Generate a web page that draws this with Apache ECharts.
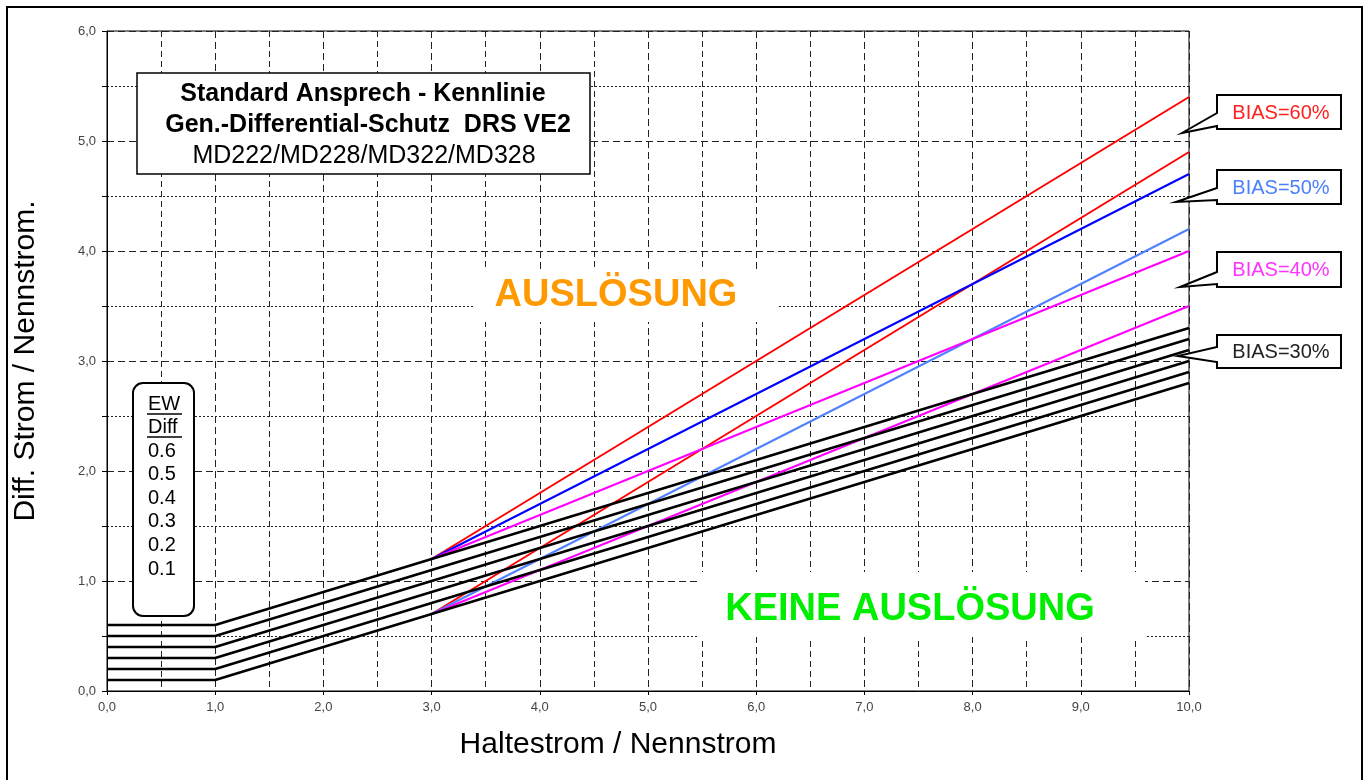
<!DOCTYPE html>
<html>
<head>
<meta charset="utf-8">
<script src="https://cdn.jsdelivr.net/npm/echarts@6/dist/echarts.min.js"></script>
<style>
  html, body { margin: 0; padding: 0; background: #fff; }
  #main { width: 1368px; height: 780px; }
</style>
</head>
<body>
<div id="main"></div>
<script>
// x points of the characteristic (Haltestrom / Nennstrom)
var xs = [0, 1, 3, 10];
// black base lines, one per EW/Diff setting
var ew06 = [0.6, 0.6, 1.2, 3.3];
var ew05 = [0.5, 0.5, 1.1, 3.2];
var ew04 = [0.4, 0.4, 1.0, 3.1];
var ew03 = [0.3, 0.3, 0.9, 3.0];
var ew02 = [0.2, 0.2, 0.8, 2.9];
var ew01 = [0.1, 0.1, 0.7, 2.8];

// bias branches start at x = 3
var xsBias = [3, 10];
var bias60Hi = [1.2, 5.4];
var bias60Lo = [0.7, 4.9];
var bias50Hi = [1.2, 4.7];
var bias50Lo = [0.7, 4.2];
var bias40Hi = [1.2, 4.0];
var bias40Lo = [0.7, 3.5];

var ewLabels = ['0.6', '0.5', '0.4', '0.3', '0.2', '0.1'];
var titleLines = ['Standard Ansprech - Kennlinie', 'Gen.-Differential-Schutz  DRS VE2', 'MD222/MD228/MD322/MD328'];

function pts(xArr, yArr) {
    return xArr.map(function (x, i) { return [x, yArr[i]]; });
}
function fmt(v) {
    return v.toFixed(1).replace('.', ',');
}

var FONT = '"Liberation Sans", Arial, sans-serif';

function lineSeries(name, xArr, yArr, color, width, z) {
    return {
        name: name,
        type: 'line',
        data: pts(xArr, yArr),
        symbol: 'none',
        z: z,
        lineStyle: {color: color, width: width},
        silent: true
    };
}

var myChart = echarts.init(document.getElementById('main'));

// callout boxes with a wedge pointing to the curve end
function callout(text, color, y0, y1, ya, yb, tx, ty) {
    var bx0 = 1217, bx1 = 1341;
    return [
        {
            type: 'polygon',
            z: 20,
            shape: {points: [[bx0, y0], [bx1, y0], [bx1, y1], [bx0, y1], [bx0, yb], [tx, ty], [bx0, ya]]},
            style: {fill: '#fff', stroke: '#000', lineWidth: 2}
        },
        {
            type: 'text',
            z: 21,
            style: {text: text, x: (bx0 + bx1) / 2 + 2, y: (y0 + y1) / 2 + 1, fill: color,
                    font: '20px ' + FONT, align: 'center', verticalAlign: 'middle'}
        }
    ];
}

var graphics = [
    // outer frame
    {type: 'rect', z: 30, shape: {x: 7, y: 7, width: 1355, height: 800},
     style: {fill: 'none', stroke: '#000', lineWidth: 2}},
    // title box
    {type: 'rect', z: 10, shape: {x: 137, y: 73, width: 453, height: 101},
     style: {fill: '#fff', stroke: '#000', lineWidth: 1.5}},
    {type: 'text', z: 11, style: {text: titleLines[0], x: 363, y: 94, fill: '#000',
        font: 'bold 25px ' + FONT, align: 'center', verticalAlign: 'middle'}},
    {type: 'text', z: 11, style: {text: titleLines[1], x: 368, y: 125, fill: '#000',
        font: 'bold 25px ' + FONT, align: 'center', verticalAlign: 'middle'}},
    {type: 'text', z: 11, style: {text: titleLines[2], x: 364, y: 156, fill: '#000',
        font: '25px ' + FONT, align: 'center', verticalAlign: 'middle'}},
    // EW / Diff legend box
    {type: 'rect', z: 10, shape: {x: 133, y: 383, width: 61, height: 233, r: 10},
     style: {fill: '#fff', stroke: '#000', lineWidth: 2}},
    {type: 'text', z: 11, style: {text: 'EW', x: 148, y: 404, fill: '#000',
        font: '20px ' + FONT, align: 'left', verticalAlign: 'middle'}},
    {type: 'line', z: 11, shape: {x1: 147, y1: 414, x2: 182, y2: 414}, style: {stroke: '#000', lineWidth: 1.5}},
    {type: 'text', z: 11, style: {text: 'Diff', x: 148, y: 427, fill: '#000',
        font: '20px ' + FONT, align: 'left', verticalAlign: 'middle'}},
    {type: 'line', z: 11, shape: {x1: 147, y1: 437, x2: 182, y2: 437}, style: {stroke: '#000', lineWidth: 1.5}},
    // white backgrounds behind the zone texts
    {type: 'rect', z: 1, shape: {x: 473, y: 270, width: 305, height: 52}, style: {fill: '#fff'}},
    {type: 'text', z: 11, style: {text: 'AUSLÖSUNG', x: 616, y: 296, fill: '#FF9900',
        font: 'bold 38px ' + FONT, align: 'center', verticalAlign: 'middle'}},
    {type: 'rect', z: 1, shape: {x: 697, y: 572, width: 448, height: 65}, style: {fill: '#fff'}},
    {type: 'text', z: 11, style: {text: 'KEINE AUSLÖSUNG', x: 910, y: 610, fill: '#00EE00',
        font: 'bold 38px ' + FONT, align: 'center', verticalAlign: 'middle'}},
    // axis titles
    {type: 'text', z: 11, style: {text: 'Haltestrom / Nennstrom', x: 618, y: 745, fill: '#000',
        font: '30px ' + FONT, align: 'center', verticalAlign: 'middle'}}
];

ewLabels.forEach(function (t, i) {
    graphics.push({type: 'text', z: 11, style: {text: t, x: 148, y: 451 + i * 23.6, fill: '#000',
        font: '20px ' + FONT, align: 'left', verticalAlign: 'middle'}});
});

graphics = graphics
    .concat(callout('BIAS=60%', '#FF2020', 95, 129, 113, 126, 1182, 133))
    .concat(callout('BIAS=50%', '#4A7FFF', 170, 204, 188, 200, 1176, 202))
    .concat(callout('BIAS=40%', '#FF33FF', 252, 287, 272, 284, 1180, 287))
    .concat(callout('BIAS=30%', '#222222', 335, 368, 347, 362, 1178, 356));

var option = {
    animation: false,
    backgroundColor: '#fff',
    grid: {
        left: 107, right: 179, top: 31, bottom: 89,
        show: true, borderColor: '#000', borderWidth: 1, backgroundColor: 'transparent'
    },
    xAxis: {
        type: 'value',
        min: 0, max: 10, interval: 1,
        axisLine: {show: true, lineStyle: {color: '#000', width: 1}},
        axisTick: {show: true, length: 4, lineStyle: {color: '#000'}},
        minorTick: {show: false, splitNumber: 2},
        axisLabel: {formatter: fmt, color: '#444', fontSize: 13, fontFamily: FONT, margin: 10},
        splitLine: {show: true, lineStyle: {color: '#222', width: 1, type: [7, 4]}},
        minorSplitLine: {show: true, lineStyle: {color: '#222', width: 1, type: [6, 4]}}
    },
    yAxis: {
        type: 'value',
        min: 0, max: 6, interval: 1,
        name: 'Diff. Strom / Nennstrom.',
        nameLocation: 'middle',
        nameGap: 66,
        nameRotate: 90,
        nameTextStyle: {color: '#000', fontSize: 30, fontFamily: FONT},
        axisLine: {show: true, lineStyle: {color: '#000', width: 1}},
        axisTick: {show: true, length: 5, lineStyle: {color: '#000'}},
        minorTick: {show: true, splitNumber: 2, length: 5, lineStyle: {color: '#000'}},
        axisLabel: {formatter: fmt, color: '#444', fontSize: 13, fontFamily: FONT, margin: 11},
        splitLine: {show: true, lineStyle: {color: '#222', width: 1, type: [7, 4]}},
        minorSplitLine: {show: true, lineStyle: {color: '#222', width: 1, type: [2, 2]}}
    },
    graphic: graphics,
    series: [
        lineSeries('BIAS 60% a', xsBias, bias60Hi, '#FF0000', 2, 3),
        lineSeries('BIAS 60% b', xsBias, bias60Lo, '#FF0000', 2, 3),
        lineSeries('BIAS 50% a', xsBias, bias50Hi, '#0000FF', 2, 3),
        lineSeries('BIAS 50% b', xsBias, bias50Lo, '#4F81FF', 2, 3),
        lineSeries('BIAS 40% a', xsBias, bias40Hi, '#FF00FF', 2, 3),
        lineSeries('BIAS 40% b', xsBias, bias40Lo, '#FF00FF', 2, 3),
        lineSeries('EW 0.6', xs, ew06, '#000', 2.5, 4),
        lineSeries('EW 0.5', xs, ew05, '#000', 2.5, 4),
        lineSeries('EW 0.4', xs, ew04, '#000', 2.5, 4),
        lineSeries('EW 0.3', xs, ew03, '#000', 2.5, 4),
        lineSeries('EW 0.2', xs, ew02, '#000', 2.5, 4),
        lineSeries('EW 0.1', xs, ew01, '#000', 2.5, 4)
    ]
};
myChart.setOption(option);
</script>
</body>
</html>
